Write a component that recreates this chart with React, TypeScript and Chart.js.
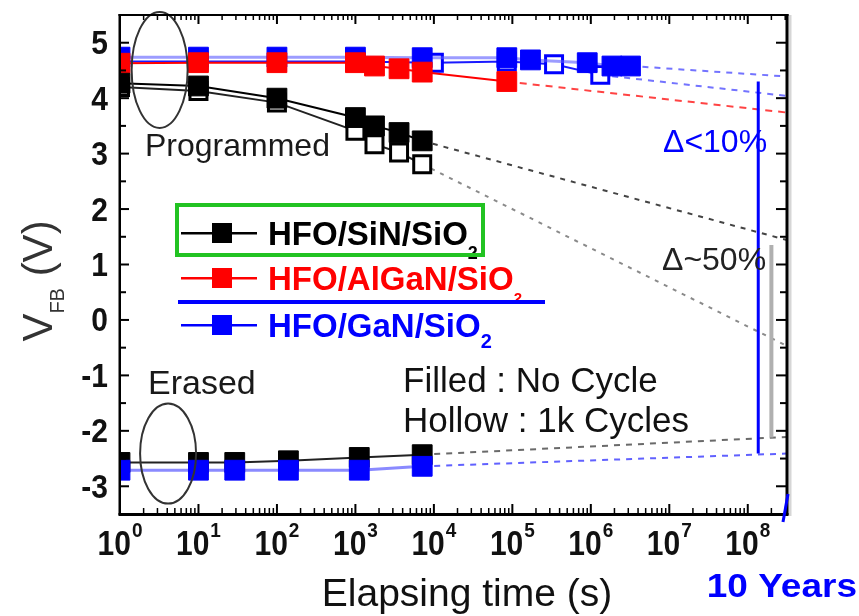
import React, { useEffect, useRef } from 'react';
import { Chart, registerables } from 'chart.js';

Chart.register(...registerables);

const FONT = '"Liberation Sans", Arial, Helvetica, sans-serif';
const TEN_YEARS = 3.16e8;

// Axis ticks
const yTickValues = [-3, -2, -1, 0, 1, 2, 3, 4, 5];
const xDecades = [0, 1, 2, 3, 4, 5, 6, 7, 8];

// Programmed state — HFO/SiN/SiO2
const sinProgTime = [1, 10, 100, 1000, 1750, 3600, 7100];
const sinProgFilled = [4.27, 4.22, 4.0, 3.65, 3.5, 3.38, 3.23];
const sinProgHollow = [4.2, 4.13, 3.92, 3.41, 3.17, 3.02, 2.81];

// Programmed state — HFO/AlGaN/SiO2
const algaProgTime = [1, 10, 100, 1000, 1750, 3600, 7100, 85000];
const algaProgFilled = [4.63, 4.64, 4.64, 4.64, 4.58, 4.53, 4.47, 4.3];

// Programmed state — HFO/GaN/SiO2
const ganFilledTime = [1, 10, 100, 1000, 7100, 85000, 170000, 900000, 1860000, 3200000];
const ganProgFilled = [4.74, 4.74, 4.74, 4.74, 4.73, 4.73, 4.69, 4.64, 4.58, 4.58];
const ganHollowTime = [1, 10, 100, 1000, 10000, 85000, 340000, 1320000];
const ganProgHollow = [4.66, 4.66, 4.66, 4.66, 4.64, 4.66, 4.61, 4.42];

// Erased state
const erasedTime = [1, 10, 29, 140, 1120, 7100];
const sinErased = [-2.57, -2.57, -2.57, -2.54, -2.48, -2.43];
const ganErased = [-2.71, -2.71, -2.71, -2.71, -2.71, -2.64];

// Extrapolation to ten years
const sinTailTime = [7100, TEN_YEARS];
const sinFilledTail = [3.23, 1.44];
const sinHollowTail = [2.81, -0.47];
const algaTailTime = [85000, TEN_YEARS];
const algaFilledTail = [4.3, 3.74];
const ganFilledTailTime = [3200000, TEN_YEARS];
const ganFilledTail = [4.58, 4.39];
const ganHollowTailTime = [1320000, TEN_YEARS];
const ganHollowTail = [4.42, 4.04];
const erasedTailTime = [7100, TEN_YEARS];
const sinErasedTail = [-2.43, -2.11];
const ganErasedTail = [-2.64, -2.41];

// Memory window bars near ten years
const ganWindowTime = [1.36e8, 1.36e8];
const ganWindow = [4.3, -2.41];
const sinWindowTime = [2.0e8, 2.0e8];
const sinWindow = [1.35, -2.12];

function pts(t: number[], v: number[]) {
  return t.map((tt, i) => ({ x: tt, y: v[i] }));
}

function filled(t: number[], v: number[], color: string, line: string, lw: number, order: number) {
  return {
    data: pts(t, v),
    borderColor: line,
    borderWidth: lw,
    pointStyle: 'rect',
    pointRadius: 14,
    pointBackgroundColor: color,
    pointBorderColor: color,
    pointBorderWidth: 1,
    order,
  };
}

function hollow(t: number[], v: number[], color: string, line: string, lw: number, order: number) {
  return {
    data: pts(t, v),
    borderColor: line,
    borderWidth: lw,
    pointStyle: 'rect',
    pointRadius: 12,
    pointBackgroundColor: '#ffffff',
    pointBorderColor: color,
    pointBorderWidth: 3,
    order,
  };
}

function tail(t: number[], v: number[], color: string, dash: number[], lw = 2) {
  return {
    data: pts(t, v),
    borderColor: color,
    borderWidth: lw,
    borderDash: dash,
    pointRadius: 0,
    order: 10,
  };
}

function drawText(
  ctx: CanvasRenderingContext2D,
  s: string,
  x: number,
  y: number,
  font: string,
  color: string,
  align: CanvasTextAlign = 'left',
  sy = 1,
) {
  ctx.save();
  ctx.font = font;
  ctx.fillStyle = color;
  ctx.textAlign = align;
  ctx.textBaseline = 'alphabetic';
  ctx.translate(x, y);
  ctx.scale(1, sy);
  ctx.fillText(s, 0, 0);
  ctx.restore();
}

const decor = {
  id: 'decor',
  afterDraw(chart: any) {
    const { ctx, chartArea: a, scales } = chart;
    const xs = scales.x;
    const ys = scales.y;
    ctx.save();

    // Ellipses around the programmed and erased groups
    ctx.strokeStyle = '#333';
    ctx.lineWidth = 2;
    ctx.beginPath();
    ctx.ellipse(xs.getPixelForValue(3.2), ys.getPixelForValue(4.51), 28, 58, 0, 0, Math.PI * 2);
    ctx.stroke();
    ctx.beginPath();
    ctx.ellipse(xs.getPixelForValue(4.1), ys.getPixelForValue(-2.41), 28, 50, 0, 0, Math.PI * 2);
    ctx.stroke();

    // Annotations
    drawText(ctx, 'Programmed', 145, 156, `32px ${FONT}`, '#1a1a1a');
    drawText(ctx, 'Erased', 148, 394, `34px ${FONT}`, '#1a1a1a');
    drawText(ctx, 'Filled : No Cycle', 403, 392, `35px ${FONT}`, '#111');
    drawText(ctx, 'Hollow : 1k Cycles', 403, 432, `35px ${FONT}`, '#111');
    drawText(ctx, '\u0394<10%', 663, 152, `32px ${FONT}`, '#0000ff');
    drawText(ctx, '\u0394~50%', 662, 270, `32px ${FONT}`, '#222');

    // Legend
    const rows = [
      { label: 'HFO/SiN/SiO', color: '#000000', base: 245, subBase: 259, subSize: 18 },
      { label: 'HFO/AlGaN/SiO', color: '#ff0000', base: 290, subBase: 303, subSize: 15 },
      { label: 'HFO/GaN/SiO', color: '#0000ff', base: 337, subBase: 348, subSize: 20 },
    ];
    rows.forEach((r) => {
      const cy = r.base - 12;
      ctx.fillStyle = r.color;
      ctx.fillRect(181, cy - 1, 76, 2.5);
      ctx.fillRect(212, cy - 10, 20, 20);
      ctx.font = `bold 33px ${FONT}`;
      const w = ctx.measureText(r.label).width;
      drawText(ctx, r.label, 268, r.base, `bold 33px ${FONT}`, r.color);
      drawText(ctx, '2', 268 + w, r.subBase, `bold ${r.subSize}px ${FONT}`, r.color);
    });
    ctx.strokeStyle = '#22c322';
    ctx.lineWidth = 4;
    ctx.strokeRect(177, 205, 306, 50);
    ctx.fillStyle = '#0000ff';
    ctx.fillRect(178, 300, 367, 4);

    // Frame
    ctx.fillStyle = '#d6d6d6';
    ctx.fillRect(a.right + 1.5, a.top, 3, a.bottom - a.top + 2);
    ctx.fillStyle = '#000';
    ctx.fillRect(a.left - 1.5, a.top - 1, 2.5, a.bottom - a.top + 2);
    ctx.fillRect(a.right - 1.5, a.top - 1, 3, a.bottom - a.top + 2);
    ctx.fillRect(a.left - 1.5, a.bottom - 1, a.right - a.left + 3, 3);
    ctx.fillRect(a.left - 1.5, a.top - 1, a.right - a.left + 3, 2);

    // Y ticks (inward on both sides)
    yTickValues.forEach((v) => {
      const py = ys.getPixelForValue(v);
      ctx.fillRect(a.left, py - 1, 9, 2);
      ctx.fillRect(a.right - 11, py - 1, 11, 2);
      const ph = ys.getPixelForValue(v + 0.5);
      if (v + 0.5 <= ys.max) {
        ctx.fillRect(a.left, ph - 1, 6, 2);
        ctx.fillRect(a.right - 7, ph - 1, 7, 2);
      }
      if (v === -3) {
        const pl = ys.getPixelForValue(-3.5);
        if (pl < a.bottom - 2) ctx.fillRect(a.left, pl - 1, 6, 2);
      }
      drawText(ctx, String(v), 108, py + 11.5, `bold 30px ${FONT}`, '#111', 'right', 1.1);
    });

    // X ticks (inward on bottom and top)
    xDecades.forEach((d) => {
      const px = xs.getPixelForValue(Math.pow(10, d));
      ctx.fillRect(px - 1, a.bottom - 10, 2, 10);
      ctx.fillRect(px - 1, a.top, 2, 9);
      for (let m = 2; m <= 9; m++) {
        const t = m * Math.pow(10, d);
        if (t > xs.max) break;
        const pm = xs.getPixelForValue(t);
        ctx.fillRect(pm - 0.75, a.bottom - 6, 1.5, 6);
        ctx.fillRect(pm - 0.75, a.top, 1.5, 5);
      }
      // Tick label 10^d
      ctx.font = `bold 30px ${FONT}`;
      const w10 = ctx.measureText('10').width;
      ctx.font = `bold 19px ${FONT}`;
      const ws = ctx.measureText(String(d)).width;
      const start = px - (w10 + 1 + ws) / 2;
      drawText(ctx, '10', start, 555, `bold 30px ${FONT}`, '#111', 'left', 1.15);
      drawText(ctx, String(d), start + w10 + 1, 537, `bold 19px ${FONT}`, '#111', 'left', 1.1);
    });

    // Axis titles
    drawText(ctx, 'Elapsing time (s)', 467, 606, `39px ${FONT}`, '#111', 'center');
    drawText(ctx, '10 Years', 857, 597, `bold 37px ${FONT}`, '#0000ff', 'right', 0.9);

    // Y title: V_FB (V), rotated
    ctx.save();
    ctx.font = `42px ${FONT}`;
    const wV = ctx.measureText('V').width;
    const wP = ctx.measureText(' (V)').width;
    ctx.font = `20px ${FONT}`;
    const wFB = ctx.measureText('FB').width;
    const total = wV + wFB + wP;
    ctx.translate(52, 281 + total / 2);
    ctx.rotate(-Math.PI / 2);
    ctx.fillStyle = '#333';
    ctx.textBaseline = 'alphabetic';
    ctx.font = `42px ${FONT}`;
    ctx.fillText('V', 0, 0);
    ctx.font = `20px ${FONT}`;
    ctx.fillText('FB', wV, 12);
    ctx.font = `42px ${FONT}`;
    ctx.fillText(' (V)', wV + wFB, 0);
    ctx.restore();

    // Small blue mark at the ten-year edge
    ctx.strokeStyle = '#0000ff';
    ctx.lineWidth = 3;
    ctx.beginPath();
    ctx.moveTo(a.right + 1, a.bottom - 20);
    ctx.lineTo(a.right - 4, a.bottom + 8);
    ctx.stroke();

    ctx.restore();
  },
};

export default function App() {
  const ref = useRef<HTMLCanvasElement | null>(null);

  useEffect(() => {
    if (!ref.current) return;
    const chart = new Chart(ref.current, {
      type: 'line',
      data: {
        datasets: [
          // Programmed, extrapolated tails
          tail(sinTailTime, sinFilledTail, '#444444', [5, 6]),
          tail(sinTailTime, sinHollowTail, '#8a8a8a', [4, 6]),
          tail(algaTailTime, algaFilledTail, 'rgba(255,20,20,0.8)', [7, 6]),
          tail(ganFilledTailTime, ganFilledTail, 'rgba(40,40,255,0.65)', [6, 6]),
          tail(ganHollowTailTime, ganHollowTail, 'rgba(40,40,255,0.65)', [6, 6]),
          // Erased, extrapolated tails
          tail(erasedTailTime, sinErasedTail, '#6a6a6a', [6, 6]),
          tail(erasedTailTime, ganErasedTail, 'rgba(30,30,255,0.7)', [6, 6]),
          // Window bars
          { data: pts(sinWindowTime, sinWindow), borderColor: '#b0b0b0', borderWidth: 4, pointRadius: 0, order: 9 },
          { data: pts(ganWindowTime, ganWindow), borderColor: '#0000ff', borderWidth: 3, pointRadius: 0, order: 9 },
          // Programmed data
          hollow(ganHollowTime, ganProgHollow, '#0000ff', '#1a1aff', 2, 7),
          filled(ganFilledTime, ganProgFilled, '#0000ff', 'rgba(90,90,255,0.6)', 3, 6),
          filled(algaProgTime, algaProgFilled, '#ff0000', '#ff0000', 2, 5),
          hollow(sinProgTime, sinProgHollow, '#000000', '#222222', 2, 4),
          filled(sinProgTime, sinProgFilled, '#000000', '#000000', 2, 3),
          // Erased data
          filled(erasedTime, sinErased, '#000000', '#222222', 2, 2),
          filled(erasedTime, ganErased, '#0000ff', 'rgba(60,60,255,0.6)', 3, 1),
        ] as any,
      },
      options: {
        animation: false,
        responsive: false,
        devicePixelRatio: 1,
        layout: { padding: { left: 120, right: 72, top: 12, bottom: 102 } },
        plugins: { legend: { display: false }, tooltip: { enabled: false } },
        scales: {
          x: { type: 'logarithmic', min: 1, max: Math.pow(10, 8.5), display: false },
          y: { type: 'linear', min: -3.5, max: 5.5, display: false },
        },
      },
      plugins: [decor],
    });
    return () => chart.destroy();
  }, []);

  return (
    <div style={{ position: 'fixed', left: 0, top: 0, width: 859, height: 616, background: '#fff' }}>
      <canvas ref={ref} width={859} height={616} style={{ width: 859, height: 616 }} />
    </div>
  );
}
